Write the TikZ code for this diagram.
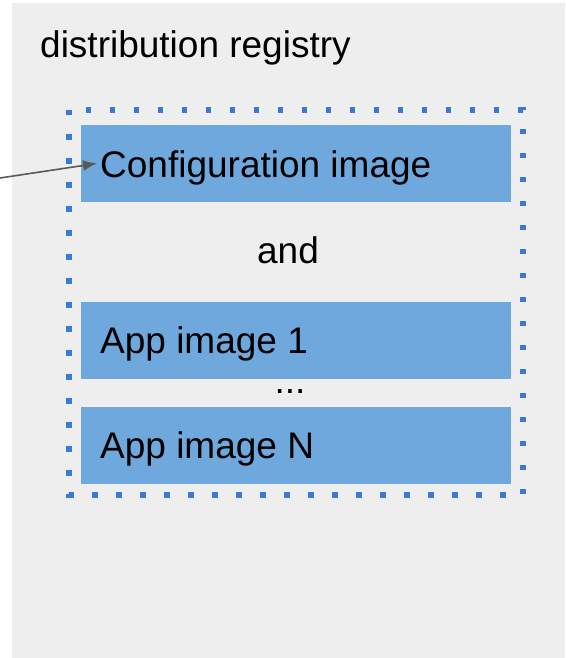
\documentclass[tikz,border=0pt]{standalone}
\usepackage{fontspec}
\setmainfont{Liberation Sans}
\usetikzlibrary{arrows.meta}
\definecolor{panelgray}{HTML}{EEEEEE}
\definecolor{imgblue}{HTML}{6FA8DC}
\definecolor{dotblue}{HTML}{3C78D8}
\definecolor{arrowgray}{HTML}{595959}
\tikzset{
  label text/.style={inner sep=0pt, anchor=base west, font=\fontsize{37}{44}\selectfont},
  imagebox/.style={fill=imgblue, draw=none, inner sep=0pt, anchor=north west,
    minimum width=430pt, minimum height=77pt},
  groupframe/.style={draw=dotblue, line width=5.5pt, dash pattern=on 5.5pt off 18.5pt},
  feed/.style={draw=arrowgray, line width=1.6pt, -{Latex[length=14pt,width=11pt]}}
}
\begin{document}
\begin{tikzpicture}[x=1pt,y=-1pt]
  \useasboundingbox (0,0) rectangle (565,658);
  % registry panel
  \fill[panelgray] (12,3) rectangle (565,658);
  \node[label text] (title) at (40,58) {distribution registry};
  % dotted group outline
  \draw[groupframe] (69,110) rectangle (523,495);
  % image boxes
  \node[imagebox] (cfgbox) at (81,125) {};
  \node[imagebox] (app1box) at (81,302) {};
  \node[imagebox] (appNbox) at (81,407) {};
  \node[label text] (cfgtext) at (100,177) {Configuration image};
  \node[label text, anchor=base] (andtext) at (288,263) {and};
  \node[label text, anchor=base west] (app1text) at (100,353) {App image 1};
  \node[label text, anchor=base] (dotstext) at (290,393) {...};
  \node[label text] (appNtext) at (100,458) {App image N};
  % incoming connector
  \coordinate (src) at (0,178);
  \draw[feed] (src) -- ([xshift=-3pt,yshift=4pt]cfgtext.west);
\end{tikzpicture}
\end{document}
